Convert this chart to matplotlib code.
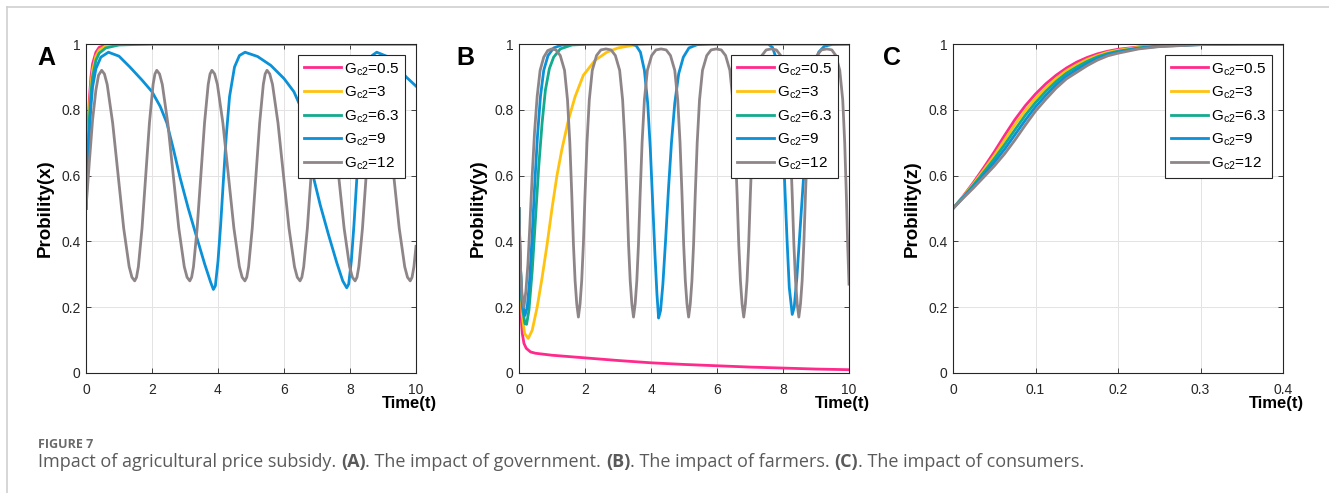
import matplotlib
matplotlib.use("Agg")
import matplotlib.pyplot as plt
from matplotlib.lines import Line2D

plt.rcParams['font.family'] = ['Liberation Sans', 'DejaVu Sans']
plt.rcParams['mathtext.fontset'] = 'custom'
plt.rcParams['mathtext.rm'] = 'Liberation Sans'

# ---- data ----
labels = ['G$_{\\mathregular{c2}}$=0.5', 'G$_{\\mathregular{c2}}$=3', 'G$_{\\mathregular{c2}}$=6.3',
          'G$_{\\mathregular{c2}}$=9', 'G$_{\\mathregular{c2}}$=12']
colors = ['#ff2a8c', '#ffc20e', '#13aa8e', '#0a91d8', '#8e8589']

y_ticks = [0, 0.2, 0.4, 0.6, 0.8, 1]
y_tick_labels = ['0', '0.2', '0.4', '0.6', '0.8', '1']
x_ticks_ab = [0, 2, 4, 6, 8, 10]
x_tick_labels_ab = ['0', '2', '4', '6', '8', '10']
x_ticks_c = [0, 0.1, 0.2, 0.3, 0.4]
x_tick_labels_c = ['0', '0.1', '0.2', '0.3', '0.4']

# panel A: government
a_fast_t = [0, 0.05, 0.1, 0.15, 0.2, 0.3, 0.4, 0.6, 1.0, 2, 10]
a_pink = [0.5, 0.72, 0.83, 0.9, 0.94, 0.975, 0.99, 0.997, 1.0, 1.0, 1.0]
a_yellow = [0.5, 0.69, 0.80, 0.875, 0.92, 0.963, 0.982, 0.994, 0.999, 1.0, 1.0]
a_green = [0.5, 0.66, 0.77, 0.85, 0.90, 0.95, 0.972, 0.988, 0.997, 1.0, 1.0]

a_blue_t = [0, 0.05, 0.1, 0.15, 0.2, 0.3, 0.45, 0.68, 1.0, 1.33, 1.7, 2.0, 2.25, 2.45,
            2.65, 2.85, 3.1, 3.36, 3.6, 3.78, 3.86, 3.92, 4.0, 4.08, 4.16, 4.25, 4.35,
            4.5, 4.65, 4.82, 5.2, 5.6, 6.0, 6.3, 6.52, 6.75, 6.88, 7.1, 7.35, 7.6, 7.78,
            7.9, 7.96, 8.04, 8.12, 8.2, 8.29, 8.39, 8.53, 8.67, 8.81, 9.13, 9.46, 9.7, 10.0]
a_blue = [0.5, 0.63, 0.73, 0.81, 0.87, 0.925, 0.96, 0.975, 0.963, 0.93, 0.89, 0.855, 0.81, 0.76,
          0.68, 0.594, 0.50, 0.411, 0.33, 0.275, 0.254, 0.265, 0.34, 0.45, 0.58, 0.72, 0.84,
          0.93, 0.965, 0.975, 0.962, 0.935, 0.895, 0.855, 0.805, 0.68, 0.60, 0.51, 0.42, 0.335, 0.28,
          0.259, 0.27, 0.34, 0.45, 0.58, 0.72, 0.84, 0.93, 0.965, 0.975, 0.962, 0.93, 0.9, 0.872]

a_gray_t = [0, 0.1, 0.2, 0.3, 0.38, 0.475,
            0.558, 0.642, 0.808, 0.975, 1.142, 1.308, 1.392, 1.475,
            1.531, 1.587, 1.698, 1.81, 1.922, 2.033, 2.089, 2.145,
            2.228, 2.312, 2.478, 2.645, 2.812, 2.978, 3.062, 3.145,
            3.201, 3.257, 3.368, 3.48, 3.592, 3.703, 3.759, 3.815,
            3.898, 3.982, 4.148, 4.315, 4.482, 4.648, 4.732, 4.815,
            4.871, 4.927, 5.038, 5.15, 5.262, 5.373, 5.429, 5.485,
            5.568, 5.652, 5.818, 5.985, 6.152, 6.318, 6.402, 6.485,
            6.541, 6.597, 6.708, 6.82, 6.932, 7.043, 7.099, 7.155,
            7.238, 7.322, 7.488, 7.655, 7.822, 7.988, 8.072, 8.155,
            8.211, 8.267, 8.378, 8.49, 8.602, 8.713, 8.769, 8.825,
            8.908, 8.992, 9.158, 9.325, 9.492, 9.658, 9.742, 9.825,
            9.881, 9.937, 10.0]
a_gray = [0.5, 0.64, 0.77, 0.86, 0.905, 0.92,
          0.909, 0.877, 0.76, 0.60, 0.44, 0.323, 0.291, 0.28,
          0.291, 0.323, 0.44, 0.60, 0.76, 0.877, 0.909, 0.92,
          0.909, 0.877, 0.76, 0.60, 0.44, 0.323, 0.291, 0.28,
          0.291, 0.323, 0.44, 0.60, 0.76, 0.877, 0.909, 0.92,
          0.909, 0.877, 0.76, 0.60, 0.44, 0.323, 0.291, 0.28,
          0.291, 0.323, 0.44, 0.60, 0.76, 0.877, 0.909, 0.92,
          0.909, 0.877, 0.76, 0.60, 0.44, 0.323, 0.291, 0.28,
          0.291, 0.323, 0.44, 0.60, 0.76, 0.877, 0.909, 0.92,
          0.909, 0.877, 0.76, 0.60, 0.44, 0.323, 0.291, 0.28,
          0.291, 0.323, 0.44, 0.60, 0.76, 0.877, 0.909, 0.92,
          0.909, 0.877, 0.76, 0.60, 0.44, 0.323, 0.291, 0.28,
          0.291, 0.323, 0.385]

# panel B: farmers
b_pink_t = [0, 0.03, 0.06, 0.1, 0.15, 0.22, 0.35, 0.5, 1, 2, 3, 4, 5, 6, 7, 8, 9, 10]
b_pink = [0.5, 0.3, 0.18, 0.12, 0.09, 0.075, 0.064, 0.06, 0.054, 0.046, 0.038, 0.031,
          0.026, 0.022, 0.018, 0.015, 0.012, 0.01]

b_yellow_t = [0, 0.04, 0.09, 0.17, 0.28, 0.4, 0.55, 0.7, 0.85, 1.0, 1.15, 1.3, 1.5, 1.7,
              1.95, 2.3, 2.66, 3.0, 3.5, 4.0, 10]
b_yellow = [0.5, 0.3, 0.18, 0.12, 0.105, 0.13, 0.2, 0.29, 0.39, 0.5, 0.6, 0.68, 0.77, 0.84,
            0.905, 0.95, 0.975, 0.988, 0.997, 1.0, 1.0]

b_green_t = [0, 0.04, 0.1, 0.18, 0.23, 0.3, 0.4, 0.5, 0.6, 0.7, 0.8, 0.92, 1.05, 1.25, 1.6, 2.2, 10]
b_green = [0.5, 0.33, 0.2, 0.15, 0.148, 0.19, 0.31, 0.47, 0.63, 0.76, 0.86, 0.925, 0.96,
           0.985, 0.997, 1.0, 1.0]

b_blue_t = [0, 0.04, 0.09, 0.18, 0.25, 0.32, 0.4, 0.48, 0.56, 0.65, 0.75, 0.88, 1.05, 1.3, 1.8,
            3.4, 3.55, 3.68, 3.8, 3.9, 3.98, 4.05, 4.12, 4.18, 4.23, 4.29, 4.36, 4.44, 4.53,
            4.62, 4.72, 4.84, 4.98, 5.15, 5.4, 5.8,
            7.55, 7.68, 7.8, 7.9, 7.98, 8.05, 8.12, 8.19, 8.28, 8.34, 8.42, 8.52, 8.62, 8.72,
            8.83, 8.95, 9.08, 9.25, 9.5, 10]
b_blue = [0.5, 0.33, 0.22, 0.175, 0.2, 0.28, 0.42, 0.58, 0.72, 0.84, 0.92, 0.965, 0.988, 0.997, 1.0,
          1.0, 0.995, 0.975, 0.92, 0.82, 0.68, 0.52, 0.36, 0.24, 0.167, 0.19, 0.27, 0.40, 0.56,
          0.70, 0.82, 0.91, 0.96, 0.988, 0.998, 1.0,
          1.0, 0.99, 0.955, 0.87, 0.74, 0.58, 0.41, 0.26, 0.178, 0.2, 0.29, 0.44, 0.59, 0.74,
          0.86, 0.935, 0.975, 0.993, 0.999, 1.0]

b_gray_t = [0, 0.04, 0.09, 0.15,
            0.21, 0.27, 0.33, 0.40, 0.47, 0.55, 0.64, 0.75, 0.87, 0.99,
            1.12, 1.25, 1.38, 1.47, 1.54, 1.60, 1.65, 1.70, 1.75, 1.80,
            1.85, 1.90, 1.95, 2.00, 2.06, 2.13, 2.22, 2.35, 2.48, 2.635,
            2.79, 2.92, 3.05, 3.14, 3.21, 3.27, 3.32, 3.37, 3.42, 3.47,
            3.52, 3.57, 3.62, 3.67, 3.73, 3.80, 3.89, 4.02, 4.15, 4.305,
            4.46, 4.59, 4.72, 4.81, 4.88, 4.94, 4.99, 5.04, 5.09, 5.14,
            5.19, 5.24, 5.29, 5.34, 5.40, 5.47, 5.56, 5.69, 5.82, 5.975,
            6.13, 6.26, 6.39, 6.48, 6.55, 6.61, 6.66, 6.71, 6.76, 6.81,
            6.86, 6.91, 6.96, 7.01, 7.07, 7.14, 7.23, 7.36, 7.49, 7.645,
            7.80, 7.93, 8.06, 8.15, 8.22, 8.28, 8.33, 8.38, 8.43, 8.48,
            8.53, 8.58, 8.63, 8.68, 8.74, 8.81, 8.90, 9.03, 9.16, 9.33,
            9.48, 9.60, 9.72, 9.81, 9.87, 9.92, 9.96, 10.0]
b_gray = [0.5, 0.33, 0.24, 0.2,
          0.25, 0.33, 0.45, 0.60, 0.73, 0.84, 0.92, 0.96, 0.98, 0.985,
          0.982, 0.965, 0.92, 0.83, 0.70, 0.54, 0.39, 0.28, 0.21, 0.17,
          0.21, 0.28, 0.39, 0.54, 0.70, 0.83, 0.92, 0.965, 0.982, 0.985,
          0.982, 0.965, 0.92, 0.83, 0.70, 0.54, 0.39, 0.28, 0.21, 0.17,
          0.21, 0.28, 0.39, 0.54, 0.70, 0.83, 0.92, 0.965, 0.982, 0.985,
          0.982, 0.965, 0.92, 0.83, 0.70, 0.54, 0.39, 0.28, 0.21, 0.17,
          0.21, 0.28, 0.39, 0.54, 0.70, 0.83, 0.92, 0.965, 0.982, 0.985,
          0.982, 0.965, 0.92, 0.83, 0.70, 0.54, 0.39, 0.28, 0.21, 0.17,
          0.21, 0.28, 0.39, 0.54, 0.70, 0.83, 0.92, 0.965, 0.982, 0.985,
          0.982, 0.965, 0.92, 0.83, 0.70, 0.54, 0.39, 0.28, 0.21, 0.17,
          0.21, 0.28, 0.39, 0.54, 0.70, 0.83, 0.92, 0.965, 0.982, 0.985,
          0.982, 0.965, 0.92, 0.83, 0.70, 0.54, 0.39, 0.27]

# panel C: consumers
c_t = [0, 0.0125, 0.025, 0.0375, 0.05, 0.0625, 0.075, 0.0875, 0.1, 0.1125, 0.125,
       0.1375, 0.15, 0.1625, 0.175, 0.1875, 0.2, 0.225, 0.25, 0.3, 0.35, 0.4]
c_pink = [0.5, 0.538, 0.580, 0.625, 0.672, 0.722, 0.770, 0.812, 0.848, 0.879, 0.905,
          0.927, 0.945, 0.959, 0.970, 0.978, 0.984, 0.991, 0.996, 0.999, 1.0, 1.0]
c_yellow = [0.5, 0.537, 0.576, 0.618, 0.661, 0.708, 0.755, 0.797, 0.835, 0.867, 0.895,
            0.919, 0.937, 0.953, 0.965, 0.975, 0.981, 0.990, 0.995, 0.999, 1.0, 1.0]
c_green = [0.5, 0.535, 0.572, 0.611, 0.651, 0.694, 0.739, 0.783, 0.822, 0.856, 0.886,
           0.911, 0.930, 0.947, 0.961, 0.971, 0.978, 0.988, 0.994, 0.999, 1.0, 1.0]
c_blue = [0.5, 0.534, 0.567, 0.603, 0.640, 0.680, 0.724, 0.768, 0.809, 0.844, 0.876,
          0.902, 0.922, 0.940, 0.956, 0.968, 0.975, 0.987, 0.993, 0.998, 1.0, 1.0]
c_gray = [0.5, 0.532, 0.563, 0.596, 0.629, 0.666, 0.708, 0.753, 0.796, 0.832, 0.866,
          0.894, 0.914, 0.934, 0.951, 0.964, 0.972, 0.985, 0.992, 0.998, 1.0, 1.0]

panels = [
    ('A', 'Probility(x)', x_ticks_ab, x_tick_labels_ab, 10,
     [(a_fast_t, a_pink), (a_fast_t, a_yellow), (a_fast_t, a_green), (a_blue_t, a_blue), (a_gray_t, a_gray)]),
    ('B', 'Probility(y)', x_ticks_ab, x_tick_labels_ab, 10,
     [(b_pink_t, b_pink), (b_yellow_t, b_yellow), (b_green_t, b_green), (b_blue_t, b_blue), (b_gray_t, b_gray)]),
    ('C', 'Probility(z)', x_ticks_c, x_tick_labels_c, 0.4,
     [(c_t, c_pink), (c_t, c_yellow), (c_t, c_green), (c_t, c_blue), (c_t, c_gray)]),
]

W, H = 1329, 493
fig = plt.figure(figsize=(W / 100, H / 100), dpi=100)
fig.patch.set_facecolor('white')

# light frame on the page
fig.add_artist(Line2D([7 / W, 7 / W], [0, 1 - 7 / H], transform=fig.transFigure, color='#cfcfcf', lw=1.2))
fig.add_artist(Line2D([7 / W, 1], [1 - 7 / H, 1 - 7 / H], transform=fig.transFigure, color='#cfcfcf', lw=1.2))

ax_left = [86, 519, 953]
letter_x = [37, 456, 883]
ax_w, ax_h = 330, 329
ax_top = 44

for i, (letter, ylab, xt, xtl, xmax, series) in enumerate(panels):
    ax = fig.add_axes([ax_left[i] / W, 1 - (ax_top + ax_h) / H, ax_w / W, ax_h / H])
    for (t, v), c, lab in zip(series, colors, labels):
        ax.plot(t, v, color=c, lw=2.0, label=lab, solid_joinstyle='round')
    ax.set_xlim(0, xmax)
    ax.set_ylim(0, 1)
    ax.set_xticks(xt)
    ax.set_xticklabels(xtl)
    ax.set_yticks(y_ticks)
    ax.set_yticklabels(y_tick_labels)
    ax.grid(True, color='#e3e3e3', lw=0.7)
    ax.set_axisbelow(True)
    ax.tick_params(direction='in', length=3.5, width=0.6, top=True, right=True,
                   labelsize=10, colors='#262626')
    ax.tick_params(axis='x', pad=7)
    ax.tick_params(axis='y', pad=4)
    for sp in ax.spines.values():
        sp.set_color('#262626')
        sp.set_linewidth(0.8)
    ax.set_ylabel(ylab, fontsize=13.5, fontweight='bold', va='center')
    ax.yaxis.set_label_coords(-0.124, 0.5)
    ax.set_xlabel('Time(t)', fontsize=12, fontweight='bold', ha='right', va='center')
    ax.xaxis.set_label_coords(1.064, -0.094)
    leg = ax.legend(loc='upper right', bbox_to_anchor=(0.9667, 0.9675), borderaxespad=0,
                    fontsize=11, handlelength=2.4, handletextpad=0.2, borderpad=0.4,
                    labelspacing=0.45, fancybox=False, framealpha=1, edgecolor='#262626')
    leg.get_frame().set_linewidth(0.8)
    fig.text(letter_x[i] / W, 1 - 65 / H, letter, fontsize=18, fontweight='bold', va='baseline')

# caption
fig.text(38 / W, 1 - 447.5 / H, 'FIGURE 7', fontsize=9, fontweight='bold', color='#6a6a6a',
         family=['Open Sans', 'DejaVu Sans'], va='baseline')

runs = [('Impact of agricultural price subsidy. ', 'normal'), ('(A)', 'bold'),
        ('. The impact of government. ', 'normal'), ('(B)', 'bold'),
        ('. The impact of farmers. ', 'normal'), ('(C)', 'bold'),
        ('. The impact of consumers.', 'normal')]
renderer = fig.canvas.get_renderer()
x = 38 / W
for s, wgt in runs:
    t = fig.text(x, 1 - 467 / H, s, fontsize=13, fontweight=wgt, color='#5a5a5a',
                 family=['Open Sans', 'DejaVu Sans'], va='baseline')
    x += t.get_window_extent(renderer=renderer).width / (W)

fig.savefig('out.png', dpi=100)
